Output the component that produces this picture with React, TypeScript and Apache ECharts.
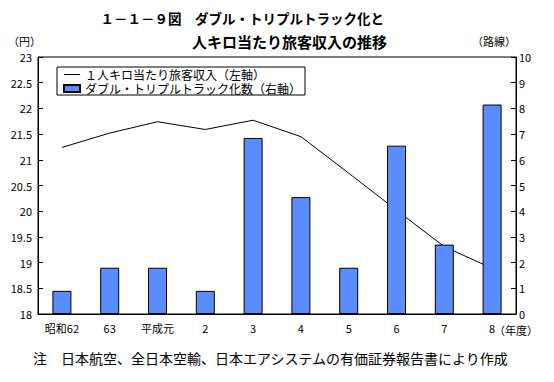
import React, { useEffect, useRef } from "react";
import * as echarts from "echarts";

const categories = ["昭和62", "63", "平成元", "2", "3", "4", "5", "6", "7", "8"];
const revenuePerKm = [21.24, 21.52, 21.74, 21.59, 21.77, 21.45, 20.74, 20.02, 19.31, 18.89];
const doubleTripleRoutes = [0.9, 1.8, 1.8, 0.9, 6.85, 4.55, 1.8, 6.55, 2.7, 8.15];
const lineName = "１人キロ当たり旅客収入（左軸）";
const barName = "ダブル・トリプルトラック化数（右軸）";
const titleLine1 = "１－１－９図　ダブル・トリプルトラック化と";
const titleLine2 = "人キロ当たり旅客収入の推移";
const footnote = "注　日本航空、全日本空輸、日本エアシステムの有価証券報告書により作成";

const FONT = "'Noto Sans CJK JP', 'Noto Sans', sans-serif";

export default function App() {
  const ref = useRef<HTMLDivElement>(null);
  useEffect(() => {
    if (!ref.current) return;
    const chart = echarts.init(ref.current, null, { renderer: "svg" });
    chart.setOption({
      animation: false,
      backgroundColor: "#ffffff",
      textStyle: { fontFamily: FONT, color: "#000" },
      legend: {
        orient: "vertical",
        left: 57,
        top: 67,
        padding: [1, 4, 0, 6],
        itemGap: 1,
        itemWidth: 16,
        itemHeight: 7,
        borderColor: "#000",
        borderWidth: 1,
        textStyle: { fontFamily: FONT, fontSize: 12, lineHeight: 13, color: "#000" },
        data: [
          { name: lineName, icon: "path://M0,0L16,0L16,1L0,1Z", itemStyle: { color: "#000" } },
          { name: barName, icon: "rect" },
        ],
      },
      grid: {
        left: 38,
        right: 38,
        top: 57,
        bottom: 68,
        show: true,
        borderColor: "#000",
        borderWidth: 1,
      },
      xAxis: {
        type: "category",
        data: categories,
        boundaryGap: true,
        axisLine: { lineStyle: { color: "#000", width: 1 } },
        axisTick: { show: false },
        axisLabel: { fontFamily: FONT, fontSize: 11, color: "#000", margin: 8, interval: 0 },
      },
      yAxis: [
        {
          type: "value",
          min: 18,
          max: 23,
          interval: 0.5,
          position: "left",
          axisLine: { show: true, lineStyle: { color: "#000" } },
          axisTick: { show: true, inside: true, length: 5, lineStyle: { color: "#000" } },
          axisLabel: { fontFamily: FONT, fontSize: 11, color: "#000", margin: 6 },
          splitLine: { show: false },
        },
        {
          type: "value",
          min: 0,
          max: 10,
          interval: 1,
          position: "right",
          axisLine: { show: true, lineStyle: { color: "#000" } },
          axisTick: { show: true, inside: true, length: 5, lineStyle: { color: "#000" } },
          axisLabel: { fontFamily: FONT, fontSize: 11, color: "#000", margin: 3 },
          splitLine: { show: false },
        },
      ],
      series: [
        {
          name: lineName,
          type: "line",
          yAxisIndex: 0,
          data: revenuePerKm,
          symbol: "none",
          lineStyle: { color: "#000", width: 1 },
          itemStyle: { color: "#000" },
          z: 2,
        },
        {
          name: barName,
          type: "bar",
          yAxisIndex: 1,
          data: doubleTripleRoutes,
          barWidth: 19,
          itemStyle: { color: "#5a8bff", borderColor: "#000", borderWidth: 1 },
          z: 3,
        },
      ],
      graphic: [
        {
          type: "text",
          x: 384,
          y: 18,
          style: {
            text: titleLine1,
            fontFamily: FONT,
            fontSize: 13.5,
            fontWeight: "bold",
            fill: "#000",
            align: "right",
            verticalAlign: "middle",
          },
        },
        {
          type: "text",
          x: 387,
          y: 41,
          style: {
            text: titleLine2,
            fontFamily: FONT,
            fontSize: 15,
            fontWeight: "bold",
            fill: "#000",
            align: "right",
            verticalAlign: "middle",
          },
        },
        {
          type: "text",
          x: 8,
          y: 41,
          style: { text: "（円）", fontFamily: FONT, fontSize: 11, fill: "#000", verticalAlign: "middle" },
        },
        {
          type: "text",
          x: 472,
          y: 41,
          style: { text: "（路線）", fontFamily: FONT, fontSize: 11, fill: "#000", verticalAlign: "middle" },
        },
        {
          type: "text",
          x: 494,
          y: 330,
          style: { text: "（年度）", fontFamily: FONT, fontSize: 11, fill: "#000", verticalAlign: "middle" },
        },
        {
          type: "text",
          x: 33,
          y: 358,
          style: { text: footnote, fontFamily: FONT, fontSize: 14, fill: "#000", verticalAlign: "middle" },
        },
      ],
    });
    return () => chart.dispose();
  }, []);
  return (
    <div
      ref={ref}
      style={{ position: "fixed", left: 0, top: 0, width: 554, height: 382 }}
    />
  );
}
